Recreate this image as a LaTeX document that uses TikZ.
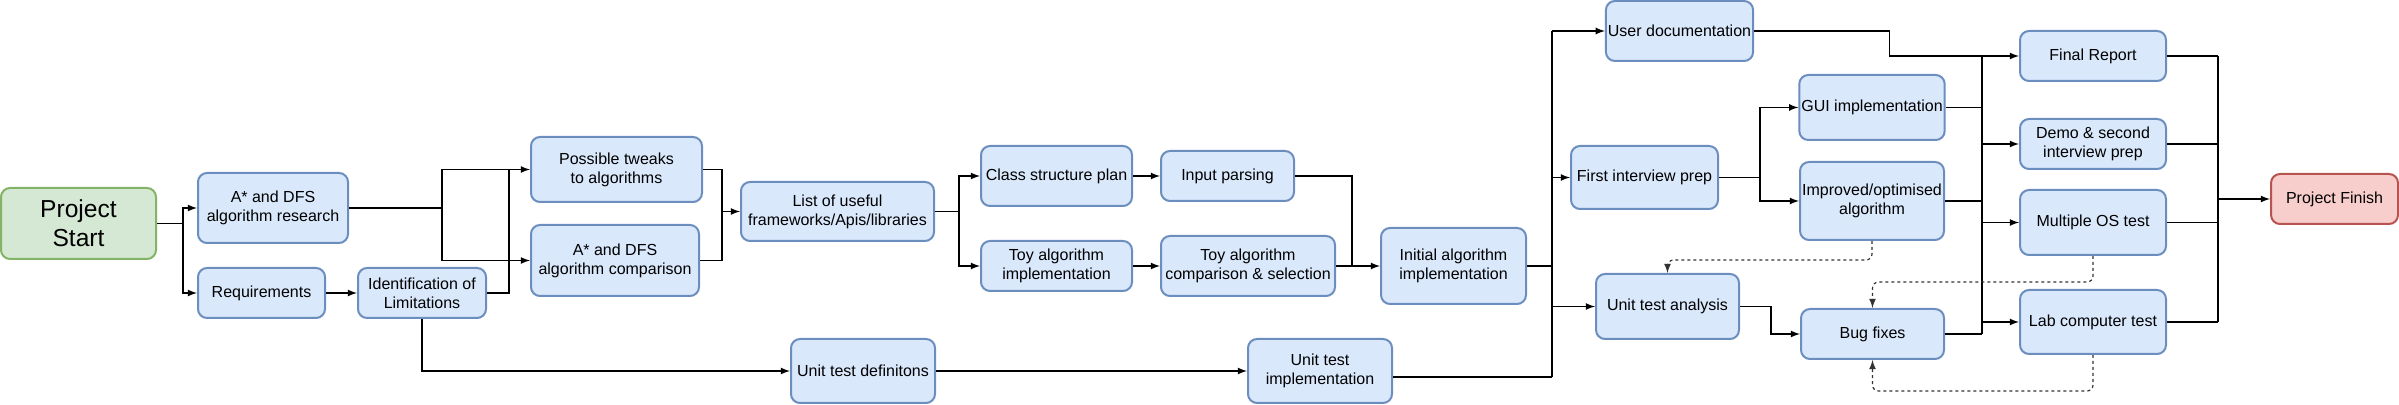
\documentclass[tikz,border=0pt]{standalone}
\usepackage{fontspec}
\setmainfont{Liberation Sans}
\usepackage{xcolor}
\definecolor{taskfill}{HTML}{DAE8FC}
\definecolor{taskline}{HTML}{6C8EBF}
\definecolor{startfill}{HTML}{D5E8D4}
\definecolor{startline}{HTML}{82B366}
\definecolor{finishfill}{HTML}{F8CECC}
\definecolor{finishline}{HTML}{B85450}

\begin{document}
\begin{tikzpicture}[x=0.5pt, y=-0.5pt, font=\fontsize{8pt}{9.5pt}\selectfont,
		task/.style 2 args={draw=taskline, fill=taskfill, line width=1pt, rounded corners=4.5pt, align=center, inner sep=1pt, minimum width=#1*0.5pt, minimum height=#2*0.5pt},
		flow/.style={line width=0.6pt, -latex},
		retest/.style={line width=0.6pt, -latex, dash pattern=on 1.5pt off 1.5pt, rounded corners=3pt, black!80}]
			\useasboundingbox (0,0) rectangle (2399,405);
			%Start and first tasks
			\node[task={155}{71}, draw=startline, fill=startfill, font=\fontsize{12.3pt}{14.3pt}\selectfont] (start) at (78.5,223.5) {Project\\Start};
			\node[task={150}{70}] (research) at (273,208) {A* and DFS\\algorithm research};
			\node[task={127}{50}] (req) at (261.5,293) {Requirements};
			\node[task={128}{50}] (limits) at (422,293) {Identification of\\Limitations};
			\node[task={171}{65}] (tweaks) at (616.5,169.5) {Possible tweaks\\to algorithms};
			\node[task={168}{71}] (compare) at (615,260.5) {A* and DFS\\algorithm comparison};
			\node[task={193}{59}] (libs) at (837.5,211.5) {List of useful\\frameworks/Apis/libraries};
			%Toy algorithms and first implementation
			\node[task={151}{60}] (classplan) at (1056.5,176) {Class structure plan};
			\node[task={133}{50}] (parsing) at (1227.5,176) {Input parsing};
			\node[task={151}{50}] (toyimpl) at (1056.5,266) {Toy algorithm\\implementation};
			\node[task={174}{60}] (toycomp) at (1248,266) {Toy algorithm\\comparison \& selection};
			\node[task={145}{76}] (initial) at (1453.5,266) {Initial algorithm\\implementation};
			\node[task={144}{64}] (utdef) at (863,371) {Unit test definitons};
			\node[task={144}{64}] (utimpl) at (1320,371) {Unit test\\implementation};
			%Second stage
			\node[task={139}{60}] (userdoc) at (1679.5,31) {User documentation};
			\node[task={147}{63}] (interview) at (1644.5,177.5) {First interview prep};
			\node[task={144}{65}] (gui) at (1872,107.5) {GUI implementation};
			\node[task={144}{78}] (improved) at (1872,201) {Improved/optimised\\algorithm};
			\node[task={143}{65}] (utanalysis) at (1667.5,306.5) {Unit test analysis};
			\node[task={143}{50}] (bugfix) at (1872.5,334) {Bug fixes};
			%Final tasks
			\node[task={146}{50}] (report) at (2093,56) {Final Report};
			\node[task={146}{50}] (demo) at (2093,144) {Demo \& second\\interview prep};
			\node[task={146}{65}] (ostest) at (2093,222.5) {Multiple OS test};
			\node[task={146}{64}] (labtest) at (2093,322) {Lab computer test};
			\node[task={127}{50}, draw=finishline, fill=finishfill] (finish) at (2334.5,199) {Project Finish};
			\coordinate (fork) at (1552,266);
			\coordinate (merge) at (1982,56);
			\coordinate (join) at (2218,199);
			%Connectors
			\draw[flow] (start.east) -- ++(26,0) coordinate (split) |- (research.west);
			\draw[flow] (split) |- (req.west);
			\draw[flow] (req) -- (limits);
			\draw[flow] (research.east) -- ++(93,0) coordinate (r1) |- (tweaks.west);
			\draw[flow] (r1) |- (compare.west);
			\draw[flow, -] (limits.east) -- ++(22,0) |- (tweaks.west -| r1);
			\draw[flow] (tweaks.east) -- ++(19,0) coordinate (t1) |- (libs.west);
			\draw[flow, -] (compare.east) -| (t1);
			\draw[flow] (libs.east) -- ++(24,0) coordinate (l1) |- (classplan.west);
			\draw[flow] (l1) |- (toyimpl.west);
			\draw[flow] (classplan) -- (parsing);
			\draw[flow] (toyimpl) -- (toycomp);
			\draw[flow, -] (parsing.east) -- ++(57,0) |- (toycomp.east);
			\draw[flow] (toycomp) -- (initial);
			\draw[flow] (limits.south) |- (utdef.west);
			\draw[flow] (utdef) -- (utimpl);
			% Fork after the initial implementation
			\draw[flow, -, line width=1.2pt] (initial.east) -- (fork);
			\draw[flow, -] (fork |- userdoc.west) -- (fork |- 0,377);
			\draw[flow, -] ([yshift=-3pt]utimpl.east) -- (fork |- 0,377);
			\foreach \dst in {userdoc, interview, utanalysis}
				\draw[flow] (fork |- \dst.west) -- (\dst.west);
			\draw[flow] (interview.east) -- ++(41,0) coordinate (i1) |- (gui.west);
			\draw[flow] (i1) |- (improved.west);
			\draw[flow] (utanalysis.east) -- ++(31,0) |- (bugfix.west);
			% Merge into the final tasks
			\draw[flow, -] (userdoc.east) -- ++(135,0) |- (merge);
			\draw[flow, -] (merge) -- (merge |- bugfix.east);
			\foreach \src in {gui, improved, bugfix}
				\draw[flow, -] (\src.east) -- (merge |- \src.east);
			\foreach \dst in {report, demo, ostest, labtest}
				\draw[flow] (merge |- \dst.west) -- (\dst.west);
			\foreach \src in {report, demo, ostest, labtest}
				\draw[flow, -] (\src.east) -- (join |- \src.east);
			\draw[flow, -] (join |- report.east) -- (join |- labtest.east);
			\draw[flow] (join) -- (finish.west);
			% Dashed feedback
			\draw[retest] (improved.south) -- ++(0,19) -| (utanalysis.north);
			\draw[retest] (ostest.south) -- ++(0,26) -| (bugfix.north);
			\draw[retest] (labtest.south) -- ++(0,36) -| (bugfix.south);
		\end{tikzpicture}
\end{document}
